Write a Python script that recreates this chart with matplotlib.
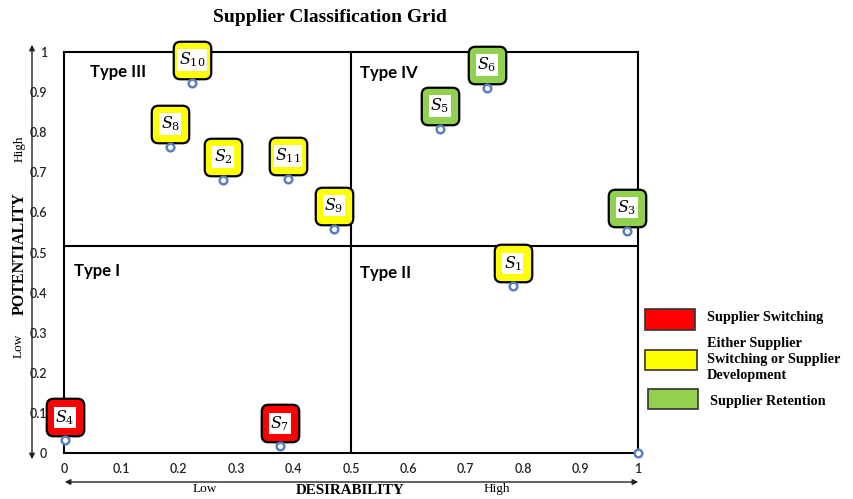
import matplotlib
matplotlib.use("Agg")
import matplotlib.pyplot as plt
import matplotlib.patches as mpatches
import matplotlib.transforms as mtransforms

# ---- data ----
suppliers = ["1", "2", "3", "4", "5", "6", "7", "8", "9", "10", "11"]
desirability = [0.782, 0.277, 0.981, 0.002, 0.655, 0.737, 0.376, 0.185, 0.470, 0.223, 0.390]
potentiality = [0.416, 0.681, 0.554, 0.032, 0.808, 0.910, 0.017, 0.763, 0.559, 0.923, 0.683]
strategy = ["dev", "dev", "ret", "sw", "ret", "ret", "sw", "dev", "dev", "dev", "dev"]
extra_x = [1.0]
extra_y = [0.0]
ticks = [0, 0.1, 0.2, 0.3, 0.4, 0.5, 0.6, 0.7, 0.8, 0.9, 1]
tick_labels = ["0", "0.1", "0.2", "0.3", "0.4", "0.5", "0.6", "0.7", "0.8", "0.9", "1"]
split_x = 0.5
split_y = 0.516
legend_keys = ["sw", "dev", "ret"]
legend_labels = ["Supplier Switching",
                 "Either Supplier\nSwitching or Supplier\nDevelopment",
                 "Supplier Retention"]
colors = {"sw": "#FF0000", "dev": "#FFFF00", "ret": "#92D050"}

W, H = 854, 499
fig = plt.figure(figsize=(W / 100, H / 100), dpi=100)
ax = fig.add_axes([64 / W, 46 / H, 574 / W, 401 / H])
ax.set_xlim(0, 1)
ax.set_ylim(0, 1)
for s in ax.spines.values():
    s.set_linewidth(1.5)
    s.set_color("black")
ax.set_xticks(ticks)
ax.set_xticklabels(tick_labels, family="Lato", fontsize=9, color="#222222", fontweight="semibold")
ax.set_yticks(ticks)
ax.set_yticklabels(tick_labels, family="Lato", fontsize=9, color="#222222", fontweight="semibold")
ax.tick_params(axis="x", length=0, pad=7)
ax.tick_params(axis="y", length=0, pad=12)

ax.axvline(split_x, color="black", lw=1.5)
ax.axhline(split_y, color="black", lw=1.5)

tfont = dict(family="Lato", fontweight="bold", fontsize=12)
ax.text(0.045, 0.95, "Type III", va="center", ha="left", **tfont)
ax.text(0.516, 0.948, "Type IV", va="center", ha="left", **tfont)
ax.text(0.017, 0.454, "Type I", va="center", ha="left", **tfont)
ax.text(0.516, 0.449, "Type II", va="center", ha="left", **tfont)

# rounded-square marker path
rp = mpatches.FancyBboxPatch((-0.5, -0.5), 1, 1,
                             boxstyle="round,pad=0,rounding_size=0.18").get_path()

plt.rcParams["mathtext.fontset"] = "dejavuserif"
off = mtransforms.offset_copy(ax.transData, fig=fig, x=0, y=23, units="dots")
for name, x, y, k in zip(suppliers, desirability, potentiality, strategy):
    ax.plot([x], [y], marker=rp, markersize=27, mfc=colors[k], mec="black",
            mew=1.6, transform=off, clip_on=False, zorder=4, ls="none")
    ax.text(x, y, r"$S_{%s}$" % name, transform=off, ha="center", va="center",
            fontsize=11.5, zorder=5,
            bbox=dict(boxstyle="square,pad=0.08", fc="white", ec="none"))
    ax.plot([x], [y], "o", ms=5.5, mfc="white", mec="#5B7FC0", mew=1.8,
            clip_on=False, zorder=6)
ax.plot(extra_x, extra_y, "o", ms=5.5, mfc="white", mec="#5B7FC0", mew=1.8,
        clip_on=False, zorder=6)

# axis arrows
fig.patches.append(mpatches.FancyArrowPatch((32 / W, 1 - 462 / H), (32 / W, 1 - 42 / H),
                   transform=fig.transFigure, arrowstyle="<|-|>", mutation_scale=8,
                   lw=1.0, color="#222222"))
fig.patches.append(mpatches.FancyArrowPatch((62 / W, 1 - 482 / H), (641 / W, 1 - 482 / H),
                   transform=fig.transFigure, arrowstyle="<|-|>", mutation_scale=8,
                   lw=1.0, color="#222222"))

# titles / labels
fig.text(330 / W, 1 - 17 / H, "Supplier Classification Grid", ha="center", va="center",
         family="Liberation Serif", fontweight="bold", fontsize=14)
fig.text(350 / W, 1 - 491 / H, "DESIRABILITY", ha="center", va="center",
         family="Liberation Serif", fontweight="bold", fontsize=10.8)
fig.text(205 / W, 1 - 489 / H, "Low", ha="center", va="center",
         family="Liberation Serif", fontsize=9.5)
fig.text(497 / W, 1 - 489 / H, "High", ha="center", va="center",
         family="Liberation Serif", fontsize=9.5)
fig.text(20 / W, 1 - 254 / H, "POTENTIALITY", ha="center", va="center", rotation=90,
         family="Liberation Serif", fontweight="bold", fontsize=11.5)
fig.text(20 / W, 1 - 149 / H, "High", ha="center", va="center", rotation=90,
         family="Liberation Serif", fontsize=9.5)
fig.text(19 / W, 1 - 346 / H, "Low", ha="center", va="center", rotation=90,
         family="Liberation Serif", fontsize=9.5)

# legend
leg_boxes = [(645, 309, 50, 21), (645, 350, 52, 20), (648, 389, 50, 20)]
leg_text_pos = [(707, 318), (707, 359), (710, 402)]
for k, lab, (bx, by, bw, bh), (tx, ty) in zip(legend_keys, legend_labels, leg_boxes, leg_text_pos):
    fig.patches.append(mpatches.Rectangle((bx / W, 1 - (by + bh) / H), bw / W, bh / H,
                       transform=fig.transFigure, fc=colors[k], ec="#333333", lw=1.2))
    fig.text(tx / W, 1 - ty / H, lab, ha="left", va="center", family="Liberation Serif",
             fontweight="bold", fontsize=10.3, linespacing=1.3)

fig.savefig("out.png", dpi=100)
